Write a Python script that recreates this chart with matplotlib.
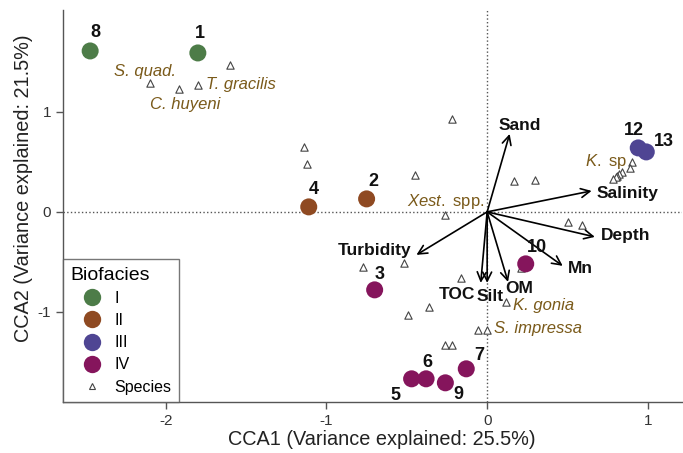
import matplotlib
matplotlib.use("Agg")
import matplotlib.pyplot as plt
from matplotlib.lines import Line2D

plt.rcParams['font.family'] = ['Liberation Sans', 'DejaVu Sans']
plt.rcParams['mathtext.fontset'] = 'custom'
plt.rcParams['mathtext.it'] = 'Liberation Sans:italic'
plt.rcParams['mathtext.rm'] = 'Liberation Sans'
plt.rcParams['axes.unicode_minus'] = False

# ---- data ----
site_ids = ['8', '1', '4', '2', '12', '13', '3', '10', '7', '6', '5', '9']
site_x = [-2.47, -1.80, -1.11, -0.75, 0.94, 0.99, -0.70, 0.24, -0.13, -0.38, -0.47, -0.26]
site_y = [1.61, 1.59, 0.05, 0.13, 0.64, 0.60, -0.78, -0.52, -1.57, -1.67, -1.67, -1.71]
site_facies = ['I', 'I', 'II', 'II', 'III', 'III', 'IV', 'IV', 'IV', 'IV', 'IV', 'IV']
facies_names = ['I', 'II', 'III', 'IV']
facies_colors = ['#4d7c48', '#8f4a22', '#4f4593', '#85155c']

species_x = [-1.60, -2.10, -1.92, -1.80, -0.22, -1.14, -1.12, -0.45, 0.17, 0.30,
             -0.26, 0.50, 0.59, 0.90, 0.89, 0.84, 0.82, 0.81, 0.80, 0.78,
             -0.77, -0.52, -0.16, -0.36, -0.49, -0.06, 0.00, -0.26, -0.22, 0.12, 0.21]
species_y = [1.47, 1.29, 1.23, 1.27, 0.93, 0.65, 0.48, 0.37, 0.31, 0.32,
             -0.03, -0.10, -0.13, 0.50, 0.44, 0.40, 0.38, 0.36, 0.35, 0.33,
             -0.55, -0.51, -0.66, -0.95, -1.03, -1.18, -1.18, -1.33, -1.33, -0.90, -0.56]

env_names = ['Sand', 'Salinity', 'Depth', 'Mn', 'OM', 'Silt', 'TOC', 'Turbidity']
env_x = [0.14, 0.65, 0.67, 0.47, 0.13, 0.00, -0.04, -0.44]
env_y = [0.78, 0.21, -0.25, -0.54, -0.70, -0.71, -0.71, -0.43]

species_labels = ['S. quad.', 'T. gracilis', 'C. huyeni',
                  r'$\it{Xest.}$ spp.', r'$\it{K.}$ sp', 'K. gonia', 'S. impressa']
species_label_italic = [True, True, True, False, False, True, True]
species_label_x = [-2.13, -1.75, -1.88, -0.02, 0.74, 0.16, 0.04]
species_label_y = [1.40, 1.27, 1.07, 0.10, 0.50, -0.94, -1.17]
species_label_ha = ['center', 'left', 'center', 'right', 'center', 'left', 'left']

# ---- figure ----
fig = plt.figure(figsize=(6.83, 4.53), dpi=100)
ax = fig.add_axes([0.092, 0.113, 0.906, 0.865])
ax.set_xlim(-2.64, 1.21)
ax.set_ylim(-1.90, 2.02)

ax.axhline(0, color='#555555', ls=':', lw=1, zorder=1)
ax.axvline(0, color='#555555', ls=':', lw=1, zorder=1)

# species
ax.scatter(species_x, species_y, marker='^', s=28, facecolors='white',
           edgecolors='#444444', linewidths=0.8, zorder=3)

# env arrows
for name, ex, ey in zip(env_names, env_x, env_y):
    ax.annotate('', xy=(ex, ey), xytext=(0, 0),
                arrowprops=dict(arrowstyle='->', color='black', lw=1.2,
                                mutation_scale=16, shrinkA=0, shrinkB=0),
                zorder=4)

env_label_pos = {
    'Sand': (0.20, 0.86, 'center'),
    'Salinity': (0.68, 0.18, 'left'),
    'Depth': (0.71, -0.24, 'left'),
    'Mn': (0.50, -0.57, 'left'),
    'OM': (0.20, -0.77, 'center'),
    'Silt': (0.02, -0.85, 'center'),
    'TOC': (-0.19, -0.83, 'center'),
    'Turbidity': (-0.70, -0.39, 'center'),
}
for name in env_names:
    lx, ly, ha = env_label_pos[name]
    ax.text(lx, ly, name, fontsize=12.5, fontweight='bold', ha=ha, va='center',
            color='#111111', zorder=5)

# sites
for f, c in zip(facies_names, facies_colors):
    xs = [x for x, ff in zip(site_x, site_facies) if ff == f]
    ys = [y for y, ff in zip(site_y, site_facies) if ff == f]
    ax.scatter(xs, ys, s=150, color=c, edgecolors='none', zorder=6)

site_label_off = {
    '8': (0.03, 0.18), '1': (0.01, 0.19), '4': (0.03, 0.17), '2': (0.04, 0.17),
    '12': (-0.03, 0.17), '13': (0.11, 0.10), '3': (0.03, 0.15), '10': (0.07, 0.16),
    '7': (0.08, 0.13), '6': (0.01, 0.16), '5': (-0.10, -0.17), '9': (0.08, -0.12),
}
for sid, sx, sy in zip(site_ids, site_x, site_y):
    dx, dy = site_label_off[sid]
    ax.text(sx + dx, sy + dy, sid, fontsize=13, fontweight='bold', ha='center',
            va='center', color='#111111', zorder=7)

# species labels
for lab, it, lx, ly, ha in zip(species_labels, species_label_italic, species_label_x,
                               species_label_y, species_label_ha):
    ax.text(lx, ly, lab, fontsize=12, color='#7a5a1a', ha=ha, va='center',
            style='italic' if it else 'normal', zorder=5)

# axes styling
for s in ['top', 'right']:
    ax.spines[s].set_visible(False)
for s in ['left', 'bottom']:
    ax.spines[s].set_color('#555555')
    ax.spines[s].set_linewidth(1)
ax.set_xticks([-2, -1, 0, 1])
ax.set_yticks([-1, 0, 1])
ax.tick_params(axis='both', colors='#555555', labelcolor='#333333', labelsize=11,
               length=5, width=1)
ax.set_xlabel('CCA1 (Variance explained: 25.5%)', fontsize=14.3, color='#222222')
ax.set_ylabel('CCA2 (Variance explained: 21.5%)', fontsize=14.3, color='#222222')
ax.xaxis.set_label_coords(0.515, -0.072)
ax.yaxis.set_label_coords(-0.049, 0.545)

# legend
handles = [Line2D([0], [0], marker='o', ls='none', markersize=12.5, markerfacecolor=c,
                  markeredgecolor='none') for c in facies_colors]
handles.append(Line2D([0], [0], marker='^', ls='none', markersize=5,
                      markerfacecolor='white', markeredgecolor='#444444', markeredgewidth=0.8))
labels = facies_names + ['Species']
leg = ax.legend(handles, labels, title='Biofacies', loc='lower left',
                bbox_to_anchor=(0.0, 0.0), fontsize=11.5, title_fontsize=14,
                frameon=True, fancybox=False, edgecolor='#555555',
                borderpad=0.45, labelspacing=0.45, handletextpad=0.1,
                borderaxespad=0.0, handlelength=2.7)
leg.get_frame().set_linewidth(1)
leg._legend_box.align = 'left'
leg.set_zorder(10)

fig.savefig('out.png', dpi=100, facecolor='white')
